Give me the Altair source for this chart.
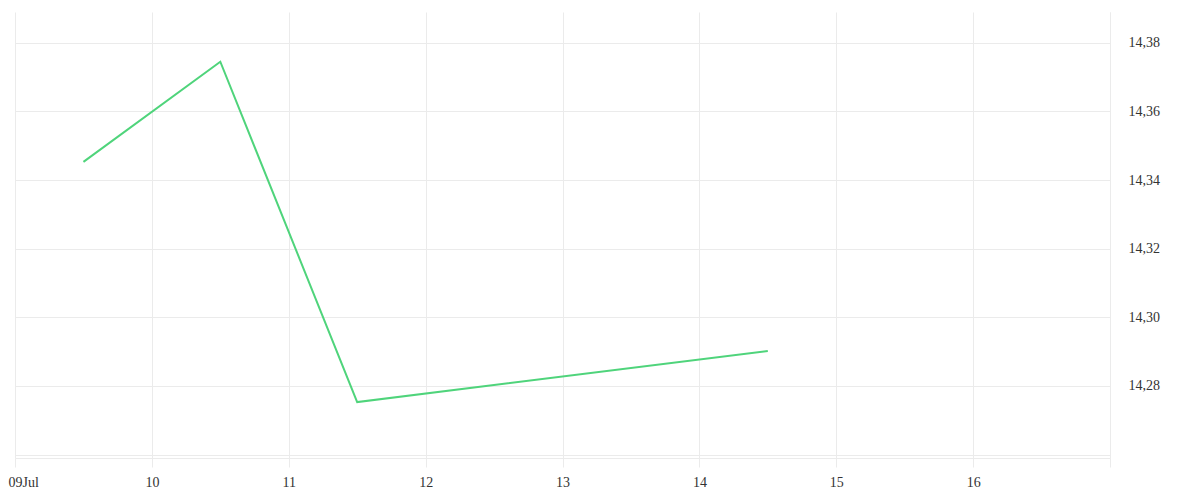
import altair as alt
import pandas as pd

dates = ["2024-07-09T12:00:00Z", "2024-07-10T12:00:00Z", "2024-07-11T12:00:00Z", "2024-07-14T12:00:00Z"]
values = [14.3453, 14.3745, 14.2753, 14.2902]

df = pd.DataFrame({"date": dates, "value": values})

FONT = "Liberation Serif"
GRID = "#ebebeb"

line = alt.Chart(df).mark_line(color="#4fd47b", strokeWidth=2).encode(
    x=alt.X(
        "date:T",
        scale=alt.Scale(type="utc", domain=["2024-07-09T00:00:00Z", "2024-07-17T00:00:00Z"], nice=False),
        axis=alt.Axis(
            title=None,
            values=[f"2024-07-{d:02d}T00:00:00Z" for d in range(9, 18)],
            labelExpr="utcdate(datum.value) == 17 ? '' : (utcdate(datum.value) == 9 ? '09Jul' : utcFormat(datum.value, '%d'))",
            grid=True,
            gridColor=GRID,
            tickColor=GRID,
            tickSize=9,
            domain=True,
            domainColor=GRID,
            labelFont=FONT,
            labelFontSize=14,
            labelColor="#333333",
            labelPadding=8,
            labelFlush=False,
            labelOverlap=False,
            labelAlign={"expr": "utcdate(datum.value) == 9 ? 'left' : 'center'"},
            labelOffset={"expr": "utcdate(datum.value) == 9 ? -7 : 0"},
        ),
    ),
    y=alt.Y(
        "value:Q",
        scale=alt.Scale(domain=[14.259, 14.389], nice=False, zero=False),
        axis=alt.Axis(
            title=None,
            orient="right",
            values=[14.26, 14.28, 14.30, 14.32, 14.34, 14.36, 14.38],
            labelExpr="datum.value < 14.27 ? '' : replace(format(datum.value, '.2f'), '.', ',')",
            grid=True,
            gridColor=GRID,
            ticks=False,
            domain=True,
            domainColor=GRID,
            labelFont=FONT,
            labelFontSize=14,
            labelColor="#333333",
            labelPadding=18,
            labelFlush=False,
        ),
    ),
)

chart = line.properties(
    width=1095,
    height=446,
    autosize=alt.AutoSizeParams(type="none"),
    padding={"left": 7, "top": 4, "right": 80, "bottom": 40},
).configure_view(stroke=None)

chart.save("out.html", embed_options={"renderer": "svg", "actions": False})
